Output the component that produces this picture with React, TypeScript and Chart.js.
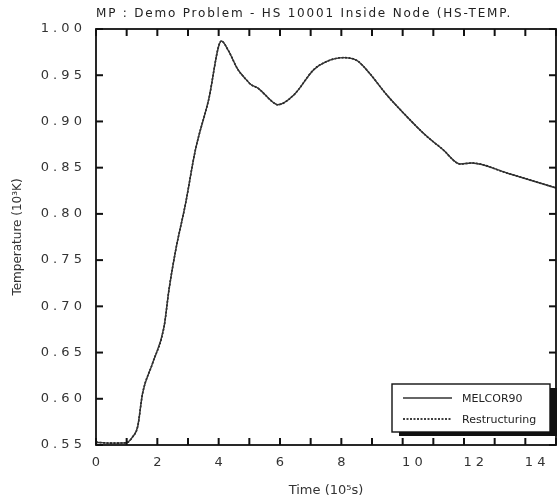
import React, { useEffect, useRef } from "react";
import { Chart, registerables } from "chart.js";

Chart.register(...registerables);

const chartTitle = "MP : Demo Problem - HS 10001 Inside Node (HS-TEMP.";
const xAxisTitle = "Time (10\u2075s)";
const yAxisTitle = "Temperature (10\u00b3K)";
const seriesNames = ["MELCOR90", "Restructuring"];

const timeValues = [
  0, 0.5, 0.99, 1.2, 1.36, 1.52, 1.84, 2.22, 2.38, 2.6, 2.92, 3.24, 3.67, 4.09,
  4.31, 4.63, 4.85, 5.05, 5.28, 5.8, 5.92, 6.46, 7.1, 7.53, 8.07, 8.5, 8.82,
  9.5, 10.0, 10.75, 11.3, 11.88, 12.25, 13.42, 15.0,
];
const melcorValues = [
  0.553, 0.552, 0.5525, 0.559, 0.57, 0.606, 0.638, 0.678, 0.718, 0.761, 0.811,
  0.869, 0.923, 0.987, 0.977, 0.956, 0.947, 0.94, 0.936, 0.92, 0.918, 0.929,
  0.956, 0.965, 0.969, 0.966, 0.956, 0.928, 0.91, 0.885, 0.87, 0.854, 0.855,
  0.844, 0.828,
];
const restructValues = [
  0.553, 0.552, 0.5525, 0.559, 0.57, 0.606, 0.638, 0.678, 0.718, 0.761, 0.811,
  0.869, 0.923, 0.987, 0.977, 0.956, 0.947, 0.94, 0.936, 0.92, 0.918, 0.929,
  0.956, 0.965, 0.969, 0.966, 0.956, 0.928, 0.91, 0.885, 0.87, 0.854, 0.855,
  0.844, 0.828,
];

const xMin = 0, xMax = 15, xStep = 1;
const yMin = 0.55, yMax = 1.0, yStep = 0.05;

const W = 566, H = 503;
const INK = "#111";

const spaced = (s: string) => s.split("").join(" ");

const framePlugin = {
  id: "frame",
  afterDraw(chart: any) {
    const { ctx, chartArea } = chart;
    const xs = chart.scales.x;
    const ys = chart.scales.y;
    const { left, right, top, bottom } = chartArea;
    ctx.save();
    ctx.setLineDash([]);
    ctx.strokeStyle = INK;
    ctx.lineWidth = 1.8;
    ctx.strokeRect(left, top, right - left, bottom - top);

    ctx.lineWidth = 2;
    const tl = 7;
    const yt = ys.getTicks();
    const xt = xs.getTicks();
    yt.forEach((t: any) => {
      const py = ys.getPixelForValue(t.value);
      ctx.beginPath();
      ctx.moveTo(left, py);
      ctx.lineTo(left + tl, py);
      ctx.stroke();
      ctx.beginPath();
      ctx.moveTo(right, py);
      ctx.lineTo(right - tl, py);
      ctx.stroke();
    });
    xt.forEach((t: any) => {
      const px = xs.getPixelForValue(t.value);
      ctx.beginPath();
      ctx.moveTo(px, bottom);
      ctx.lineTo(px, bottom - tl);
      ctx.stroke();
      ctx.beginPath();
      ctx.moveTo(px, top);
      ctx.lineTo(px, top + tl);
      ctx.stroke();
    });

    // title
    ctx.fillStyle = "#222";
    ctx.font = "12px 'DejaVu Sans'";
    ctx.textAlign = "left";
    ctx.textBaseline = "middle";
    const w0 = ctx.measureText(chartTitle).width;
    const target = 416;
    try {
      (ctx as any).letterSpacing = Math.max(0, (target - w0) / chartTitle.length) + "px";
    } catch (e) {}
    ctx.fillText(chartTitle, left, 14);
    try {
      (ctx as any).letterSpacing = "0px";
    } catch (e) {}

    // legend
    const bw = 158, bh = 48;
    const bx = 392, by = 384;
    ctx.fillStyle = "#111";
    ctx.fillRect(bx + 7, by + 4, bw, bh);
    ctx.fillStyle = "#fff";
    ctx.fillRect(bx, by, bw, bh);
    ctx.strokeStyle = INK;
    ctx.lineWidth = 1.4;
    ctx.strokeRect(bx, by, bw, bh);
    ctx.font = "11px 'DejaVu Sans'";
    chart.data.datasets.forEach((ds: any, i: number) => {
      const ry = by + 14 + i * 21;
      ctx.strokeStyle = ds.borderColor;
      ctx.lineWidth = ds.borderWidth;
      ctx.setLineDash(ds.borderDash || []);
      ctx.beginPath();
      ctx.moveTo(bx + 11, ry);
      ctx.lineTo(bx + 60, ry);
      ctx.stroke();
      ctx.setLineDash([]);
      ctx.fillStyle = "#222";
      ctx.fillText(ds.label, bx + 70, ry + 1);
    });
    ctx.restore();
  },
};

export default function App() {
  const ref = useRef<HTMLCanvasElement | null>(null);
  useEffect(() => {
    document.body.style.margin = "0";
    const canvas = ref.current!;
    const mk = (vals: number[]) => timeValues.map((t, i) => ({ x: t, y: vals[i] }));
    const chart = new Chart(canvas, {
      type: "line",
      data: {
        datasets: [
          { label: seriesNames[0], data: mk(melcorValues), borderColor: "#333", borderWidth: 1.4, pointRadius: 0, cubicInterpolationMode: "monotone" },
          { label: seriesNames[1], data: mk(restructValues), borderColor: "#000", borderWidth: 1.6, borderDash: [2, 1.5], pointRadius: 0, cubicInterpolationMode: "monotone" },
        ],
      },
      options: {
        animation: false,
        responsive: false,
        devicePixelRatio: 1,
        layout: { padding: { left: 0, top: 29, right: 4, bottom: 0 } },
        plugins: { legend: { display: false }, tooltip: { enabled: false }, title: { display: false } },
        scales: {
          x: {
            type: "linear", min: xMin, max: xMax,
            grid: { display: false, drawTicks: false }, border: { display: false },
            ticks: { stepSize: xStep, autoSkip: false, maxRotation: 0, padding: 10, color: "#333", font: { family: "'DejaVu Sans'", size: 13 },
              callback: (v: any) => { const n = Math.round(Number(v)); if (n % 2 !== 0 || n >= xMax) return ""; return n >= 10 ? "\u2002\u2002\u2002" + spaced(String(n)) : String(n); } },
            title: { display: true, text: xAxisTitle, color: "#333", font: { family: "'DejaVu Sans'", size: 13 }, padding: { top: 0, bottom: 5 } },
            afterFit: (s: any) => { s.height = 58; },
          },
          y: {
            type: "linear", min: yMin, max: yMax,
            grid: { display: false, drawTicks: false }, border: { display: false },
            ticks: { stepSize: yStep, padding: 14, color: "#333", font: { family: "'DejaVu Sans'", size: 13 }, callback: (v: any) => spaced(Number(v).toFixed(2)) },
            title: { display: true, text: yAxisTitle, color: "#333", font: { family: "'DejaVu Sans'", size: 12 }, padding: { top: 11, bottom: 0 } },
            afterFit: (s: any) => { s.width = 96; },
          },
        },
      },
      plugins: [framePlugin],
    } as any);
    return () => chart.destroy();
  }, []);
  return (
    <div style={{ width: 560, height: 503, overflow: "hidden", position: "relative", background: "#fff" }}>
      <canvas ref={ref} width={W} height={H} style={{ width: W, height: H, display: "block" }} />
    </div>
  );
}
